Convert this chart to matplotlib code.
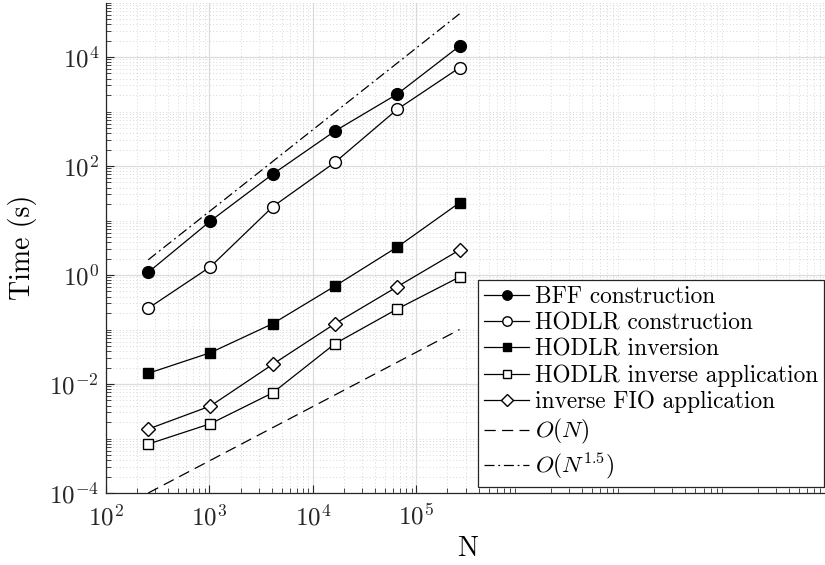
import numpy as np
import matplotlib
matplotlib.use("Agg")
import matplotlib.pyplot as plt
from matplotlib.ticker import LogLocator, NullFormatter

plt.rcParams['font.family'] = 'serif'
plt.rcParams['font.serif'] = ['cmr10']
plt.rcParams['mathtext.fontset'] = 'cm'
plt.rcParams['axes.formatter.use_mathtext'] = True

# problem sizes
N = [256, 1024, 4096, 16384, 65536, 262144]

# timings (s)
bff_construct = [1.12, 9.8, 71, 439, 2090, 15900]
hodlr_construct = [0.245, 1.42, 17.9, 117, 1097, 6370]
hodlr_inv = [0.0157, 0.0376, 0.128, 0.628, 3.26, 21.2]
hodlr_inv_apply = [0.00079, 0.00187, 0.0069, 0.055, 0.238, 0.92]
fio_inv_apply = [0.00149, 0.00395, 0.023, 0.128, 0.61, 2.88]

# reference slopes (end points)
ref_N = [256, 262144]
ref_lin = [1.0e-4, 0.1]
ref_15 = [1.9, 6.2e4]

size = 18
lw = 0.9

fig = plt.figure(figsize=(8.25, 5.65), dpi=100)
ax = fig.add_axes([106/825, 72/565, 724/825, 490.5/565])

ax.loglog(N, bff_construct, '-o', color='k', mfc='k', ms=8.5, lw=lw, label='BFF construction')
ax.loglog(N, hodlr_construct, '-o', color='k', mfc='w', ms=8.5, lw=lw, label='HODLR construction')
ax.loglog(N, hodlr_inv, '-s', color='k', mfc='k', ms=6.5, lw=lw, label='HODLR inversion')
ax.loglog(N, hodlr_inv_apply, '-s', color='k', mfc='w', ms=6.5, lw=lw, label='HODLR inverse application')
ax.loglog(N, fio_inv_apply, '-D', color='k', mfc='w', ms=7.5, lw=lw, label='inverse FIO application')
ax.loglog(ref_N, ref_lin, '--', color='k', lw=lw, dashes=(9, 5), label='$O(N)$')
ax.loglog(ref_N, ref_15, '-.', color='k', lw=lw, dashes=(8, 3, 1.5, 3), label='$O(N^{1.5})$')

ax.set_xlim(1e2, 1e9)
ax.set_ylim(1e-4, 1e5)

ax.set_xticks([1e2, 1e3, 1e4, 1e5])
ax.set_yticks([1e-4, 1e-2, 1e0, 1e2, 1e4])
ax.xaxis.set_minor_locator(LogLocator(base=10, subs=np.arange(2, 10), numticks=50))
ax.yaxis.set_minor_locator(LogLocator(base=10, subs=np.arange(1, 10), numticks=50))
ax.xaxis.set_minor_formatter(NullFormatter())
ax.yaxis.set_minor_formatter(NullFormatter())

ax.grid(True, which='major', color='#dcdcdc', lw=0.9, ls='-')
ax.grid(True, which='minor', color='#cccccc', lw=0.6, ls=(0, (1, 3)))
ax.set_axisbelow(True)

ax.tick_params(which='both', direction='in', labelsize=size, top=False, right=False, colors='#262626')
ax.tick_params(axis='y', pad=5)
ax.tick_params(axis='x', pad=8)
ax.tick_params(which='major', length=6, width=0.8)
ax.tick_params(which='minor', length=3.5, width=0.6)
for s in ['top', 'right']:
    ax.spines[s].set_visible(False)
for s in ['left', 'bottom']:
    ax.spines[s].set_color('#262626')
    ax.spines[s].set_linewidth(0.9)

ax.set_xlabel('N', size=20, va='center')
ax.set_ylabel('Time (s)', size=20, va='center')
ax.xaxis.set_label_coords(0.5, -0.114)
ax.yaxis.set_label_coords(-0.116, 0.5)

leg = ax.legend(loc='lower left', bbox_to_anchor=(0.514, 0.012), fontsize=16.8,
                frameon=True, fancybox=False, framealpha=1, edgecolor='#262626',
                handlelength=1.95, handletextpad=0.22, labelspacing=0.17,
                borderpad=0.25, borderaxespad=0, markerscale=0.8)
leg.get_frame().set_linewidth(0.9)

fig.savefig('out.png', dpi=100)
